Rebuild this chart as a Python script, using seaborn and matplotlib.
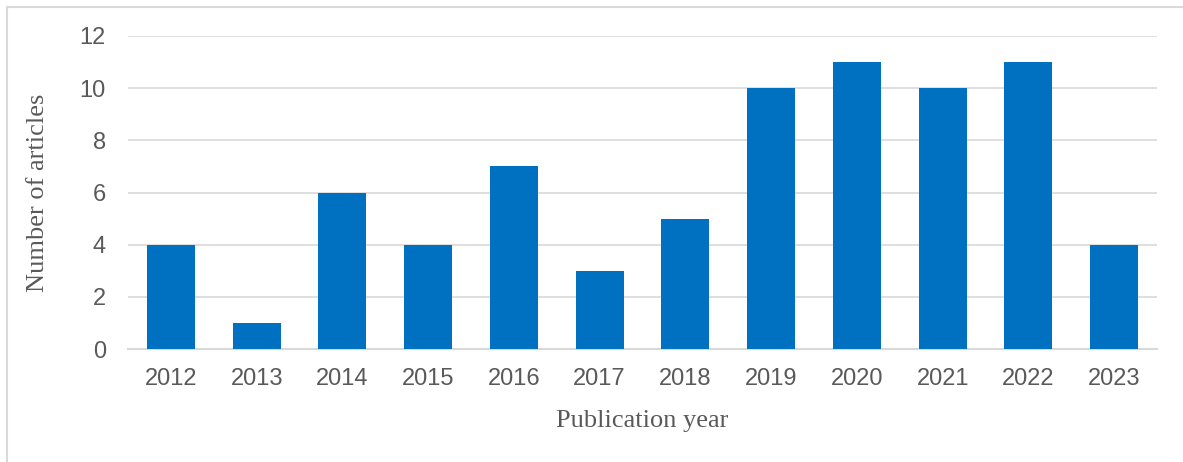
import matplotlib
matplotlib.use("Agg")
import matplotlib.pyplot as plt
import seaborn as sns
import numpy as np
import pandas as pd

years = ["2012", "2013", "2014", "2015", "2016", "2017",
         "2018", "2019", "2020", "2021", "2022", "2023"]
articles = [4, 1, 6, 4, 7, 3, 5, 10, 11, 10, 11, 4]
y_ticks = [0, 2, 4, 6, 8, 10, 12]

df = pd.DataFrame({"year": years, "articles": articles})

sns.set_style("white")
plt.rcParams['font.family'] = ['Liberation Sans', 'DejaVu Sans']

fig = plt.figure(figsize=(11.83, 4.62), dpi=100)
ax = fig.add_axes([128 / 1183, 1 - 349 / 462, (1157 - 128) / 1183, (349 - 36) / 462])

sns.barplot(data=df, x="year", y="articles", color="#0070C0",
            saturation=1, width=0.56, linewidth=0, ax=ax, zorder=3)

# Light grid and axes like the Excel original
ax.set_ylim(0, 12)
ax.set_xlim(-0.5, len(years) - 0.5)
ax.set_yticks(y_ticks)
ax.yaxis.grid(True, color="#d9d9d9", linewidth=1.2, zorder=0)
ax.set_axisbelow(True)
for side in ["top", "right", "left"]:
    ax.spines[side].set_visible(False)
ax.spines["bottom"].set_color("#d9d9d9")
ax.spines["bottom"].set_linewidth(1.5)

# Ticks at category boundaries
ax.set_xticks(np.arange(-0.5, len(years), 1), minor=True)
ax.tick_params(axis="x", which="minor", length=8, width=1.5, color="#d9d9d9")
ax.tick_params(axis="x", which="major", length=0, pad=14, labelsize=17, labelcolor="#595959")
ax.tick_params(axis="y", length=0, pad=16, labelsize=17, labelcolor="#595959")

ax.set_xlabel("Publication year", fontsize=19, color="#595959",
              family=["Liberation Serif"], labelpad=14)
ax.set_ylabel("Number of articles", fontsize=19, color="#595959",
              family=["Liberation Serif"], labelpad=22)

# Frame of the chart area (left and top edges visible)
fig.add_artist(plt.Line2D([7 / 1183, 7 / 1183], [0, 1 - 7 / 462],
                          transform=fig.transFigure, color="#d9d9d9", linewidth=1.5))
fig.add_artist(plt.Line2D([7 / 1183, 1], [1 - 7 / 462, 1 - 7 / 462],
                          transform=fig.transFigure, color="#d9d9d9", linewidth=1.5))

fig.savefig("out.png", dpi=100)
